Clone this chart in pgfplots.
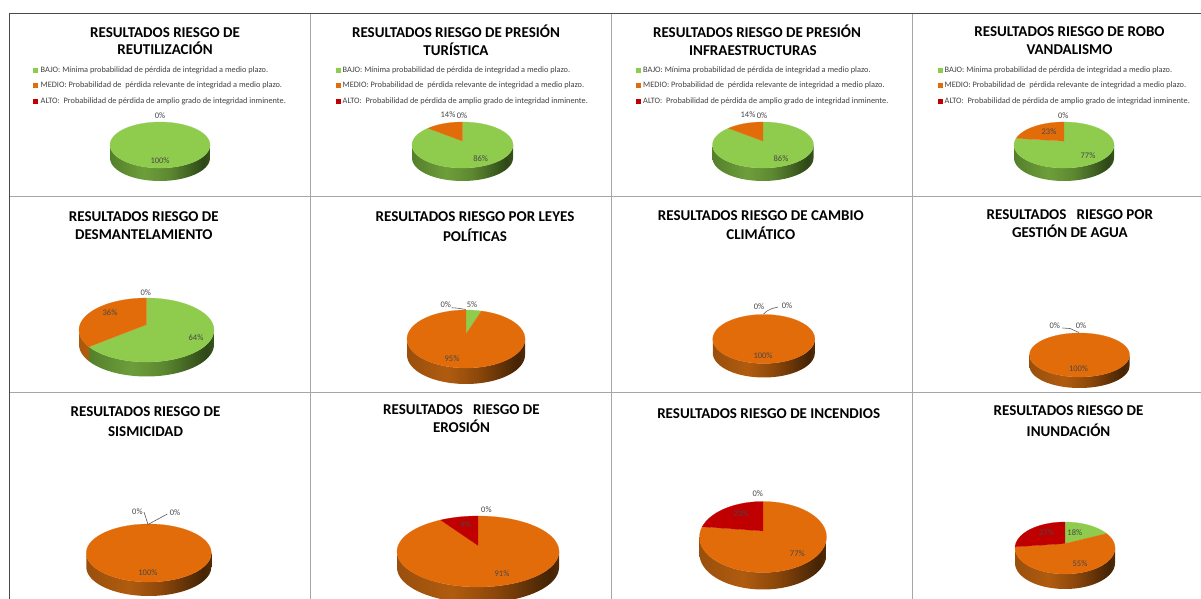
\documentclass[border=0pt]{standalone}
\usepackage{fontspec}
\setmainfont{Carlito}
\usepackage{pgfplots}
\pgfplotsset{compat=1.18}
\definecolor{cG}{HTML}{8FCC4E}
\definecolor{cO}{HTML}{E36C0A}
\definecolor{cR}{HTML}{C00000}
\definecolor{cGrid}{HTML}{A6A6A6}
\definecolor{cDark}{HTML}{4A4A4A}
\pgfdeclarehorizontalshading{gS}{100bp}{rgb(0bp)=(0.33,0.5,0.17); rgb(25bp)=(0.33,0.5,0.17); rgb(42bp)=(0.43,0.62,0.23); rgb(55bp)=(0.36,0.53,0.19); rgb(72bp)=(0.18,0.28,0.09); rgb(75bp)=(0.22,0.33,0.11); rgb(100bp)=(0.22,0.33,0.11)}
\pgfdeclarehorizontalshading{oS}{100bp}{rgb(0bp)=(0.6,0.31,0.05); rgb(25bp)=(0.6,0.31,0.05); rgb(42bp)=(0.69,0.36,0.06); rgb(55bp)=(0.55,0.28,0.04); rgb(72bp)=(0.27,0.14,0.02); rgb(75bp)=(0.32,0.17,0.03); rgb(100bp)=(0.32,0.17,0.03)}
\pgfdeclarehorizontalshading{oL}{100bp}{rgb(0bp)=(0.66,0.34,0.05); rgb(100bp)=(0.7,0.37,0.06)}
\pgfdeclarehorizontalshading{rS}{100bp}{rgb(0bp)=(0.55,0,0); rgb(100bp)=(0.3,0,0)}
\def\pieA{0.17}
\def\oShade{oS}
\newcommand\setPie[5]{%
  \def\pcx{#1}\def\pcy{#2}\def\pdp{#5}%
  \pgfmathsetmacro\pieRx{#3*sqrt(1-\pieA*\pieA)}%
  \pgfmathsetmacro\pieRy{#4*(1-\pieA*\pieA)}%
  \pgfmathsetmacro\pay{#2-\pieA*#4}%
  \pgfmathsetmacro\pieVis{acos(-\pieA)}%
  \pgfmathsetmacro\pieVisB{360-\pieVis}}
\newcommand\piePt[2]{%
  \pgfmathsetmacro\ptd{1+\pieA*cos(#1)}%
  \pgfmathsetmacro\ptx{\pcx+\pieRx*sin(#1)/\ptd}%
  \pgfmathsetmacro\pty{\pay-\pieRy*cos(#1)/\ptd+#2}%
  \xdef\plist{\plist (\ptx,\pty)}}
\newcommand\pieTop[3]{%
  \ifdim#1pt<#2pt
    \pgfmathtruncatemacro\nn{ceil((#2-#1)/4)}%
    \xdef\plist{(\pcx,\pay)}%
    \foreach \i in {0,...,\nn}{\pgfmathsetmacro\ptt{#1+(#2-#1)*(\i/\nn)}\piePt{\ptt}{0}}%
    \edef\tmp{\noexpand\addplot[forget plot,fill=#3,draw=#3,line width=.2pt] coordinates {\plist};}\tmp
  \fi}
\newcommand\pieSide[3]{%
  \pgfmathsetmacro\ss{max(#1,\pieVis)}%
  \pgfmathsetmacro\se{min(#2,\pieVisB)}%
  \ifdim\ss pt<\se pt
    \pgfmathtruncatemacro\nn{ceil((\se-\ss)/4)}%
    \xdef\plist{}%
    \foreach \i in {0,...,\nn}{\pgfmathsetmacro\ptt{\ss+(\se-\ss)*(\i/\nn)}\piePt{\ptt}{0}}%
    \foreach \i in {0,...,\nn}{\pgfmathsetmacro\ptt{\se-(\se-\ss)*(\i/\nn)}\piePt{\ptt}{\pdp}}%
    \edef\tmp{\noexpand\addplot[forget plot,draw=none,shade,shading=#3] coordinates {\plist};}\tmp
  \fi}
% #1..#5 geometry (cx, cy, rx, ry, depth); #6 bajo, #7 medio, #8 alto in percent
\newcommand\pie[8]{%
  \setPie{#1}{#2}{#3}{#4}{#5}%
  \pgfmathsetmacro\aa{3.6*#6}%
  \pgfmathsetmacro\ab{\aa+3.6*#7}%
  \pgfmathsetmacro\ac{\ab+3.6*#8}%
  \pieSide{0}{\aa}{gS}\pieSide{\aa}{\ab}{\oShade}\pieSide{\ab}{\ac}{rS}%
  \pieTop{0}{\aa}{cG}\pieTop{\aa}{\ab}{cO}\pieTop{\ab}{\ac}{cR}}
\newcommand\ttl[4][15]{\node[anchor=base,inner sep=0pt,text=black,yshift=-4.8pt] at (axis cs:#2,#3) {\fontsize{#1}{#1}\selectfont\bfseries #4};}
\newcommand\lab[3]{\node[anchor=center,inner sep=0pt,text=black!72] at (axis cs:#1,#2) {\fontsize{8.5}{9}\selectfont #3};}
\newcommand\legcell[2]{%
  \addplot[forget plot,only marks,mark=square*,mark size=2pt,color=cG] coordinates {(#1,70)};
  \addplot[forget plot,only marks,mark=square*,mark size=2pt,color=cO] coordinates {(#1,85)};
  \addplot[forget plot,only marks,mark=square*,mark size=2pt,color=cR] coordinates {(#1,101)};
  \node[anchor=west,inner sep=0pt,text=black!75] at (axis cs:#2,70) {\fontsize{8.3}{9}\selectfont BAJO: Mínima probabilidad de pérdida de integridad a medio plazo.};
  \node[anchor=west,inner sep=0pt,text=black!75] at (axis cs:#2,85) {\fontsize{8.3}{9}\selectfont MEDIO: Probabilidad de~ pérdida relevante de integridad a medio plazo.};
  \node[anchor=west,inner sep=0pt,text=black!75] at (axis cs:#2,101) {\fontsize{8.3}{9}\selectfont ALTO:~ Probabilidad de pérdida de amplio grado de integridad inminente.};
}
\begin{document}
\begin{tikzpicture}
\begin{axis}[hide axis,scale only axis,width=1201pt,height=599pt,xmin=0,xmax=1201,ymin=0,ymax=599,y dir=reverse,clip=true]
% grid
\addplot[forget plot,cGrid,line width=1.2pt] coordinates {(310.5,14) (310.5,599)};
\addplot[forget plot,cGrid,line width=1.2pt] coordinates {(611.5,14) (611.5,599)};
\addplot[forget plot,cGrid,line width=1.2pt] coordinates {(912.5,14) (912.5,599)};
\addplot[forget plot,cGrid,line width=1.2pt] coordinates {(9,196.5) (1201,196.5)};
\addplot[forget plot,cGrid,line width=1.2pt] coordinates {(9,392.5) (1201,392.5)};
\addplot[forget plot,cDark,line width=1.3pt] coordinates {(9,13.5) (1201,13.5)};
\addplot[forget plot,cDark,line width=1.3pt] coordinates {(9.5,13.5) (9.5,599)};
% legends
\legcell{35}{40.5}
\legcell{338}{342.5}
\legcell{638.5}{643}
\legcell{940}{944.5}
% pies
\pie{160}{145}{50}{23}{13}{100}{0}{0}
\pie{462.5}{145}{50.5}{23}{13}{86}{14}{0}
\pie{763}{145}{50.5}{23}{13}{86}{14}{0}
\pie{1064}{145}{50}{23}{13}{77}{23}{0}
\def\oShade{oL}
\pie{146.5}{330}{67.5}{32}{14.5}{64}{36}{0}
\def\oShade{oS}
\pie{466}{339}{59}{29}{16}{5}{95}{0}
\pie{763.8}{339}{51}{24.5}{14}{0}{100}{0}
\pie{1079.5}{355}{50}{22}{11}{0}{100}{0}
\pie{148.8}{553}{62.5}{29}{14}{0}{100}{0}
\pie{478}{551.5}{81}{35.5}{16}{0}{91}{9}
\pie{763}{537}{63.5}{35.5}{17}{0}{77}{23}
\pie{1065}{548}{50}{26}{15}{18}{55}{27}
% leader lines
\addplot[forget plot,black!65,line width=.6pt] coordinates {(451.7,307.7) (458,308.2) (465.7,309.5)};
\addplot[forget plot,black!65,line width=.6pt] coordinates {(763.5,314) (767,311) (772,308.5) (778,307)};
\addplot[forget plot,black!65,line width=.6pt] coordinates {(1062.3,328) (1070,328.5) (1079,332.5)};
\addplot[forget plot,black!65,line width=.6pt] coordinates {(144,512) (148,524.5) (167.3,514)};
% titles
\ttl{165}{32.5}{RESULTADOS RIESGO DE}
\ttl{165}{50}{REUTILIZACIÓN}
\ttl{456}{32.5}{RESULTADOS RIESGO DE PRESIÓN}
\ttl{456}{51}{TURÍSTICA}
\ttl{757}{32.5}{RESULTADOS RIESGO DE PRESIÓN}
\ttl{753}{51}{INFRAESTRUCTURAS}
\ttl{1069.5}{32}{RESULTADOS RIESGO DE ROBO}
\ttl{1069.5}{50}{VANDALISMO}
\ttl{143.8}{216.5}{RESULTADOS RIESGO DE}
\ttl{143.8}{235}{DESMANTELAMIENTO}
\ttl{475}{217}{RESULTADOS RIESGO POR LEYES}
\ttl{475}{237}{POLÍTICAS}
\ttl{760.8}{215.5}{RESULTADOS RIESGO DE CAMBIO}
\ttl{760.8}{235}{CLIMÁTICO}
\ttl{1069.8}{214.5}{RESULTADOS~~ RIESGO POR}
\ttl{1069.8}{233}{GESTIÓN DE AGUA}
\ttl{145.5}{412}{RESULTADOS RIESGO DE}
\ttl{145.5}{431.5}{SISMICIDAD}
\ttl{461.5}{410}{RESULTADOS~~ RIESGO DE}
\ttl{461.5}{428}{EROSIÓN}
\ttl{768.7}{414}{RESULTADOS RIESGO DE INCENDIOS}
\ttl{1068.5}{410.5}{RESULTADOS RIESGO DE}
\ttl{1068.5}{431.5}{INUNDACIÓN}
% value labels
\lab{160}{116}{0\%}\lab{160}{160.5}{100\%}
\lab{448}{114.5}{14\%}\lab{462}{115.5}{0\%}\lab{480.7}{159}{86\%}
\lab{748}{114.5}{14\%}\lab{762}{115.5}{0\%}\lab{781}{159}{86\%}
\lab{1063.3}{115.5}{0\%}\lab{1049}{132}{23\%}\lab{1088}{156}{77\%}
\lab{145.7}{293}{0\%}\lab{110}{313}{36\%}\lab{196}{338}{64\%}
\lab{445.7}{304.7}{0\%}\lab{472}{305}{5\%}\lab{452}{359}{95\%}
\lab{759}{306.7}{0\%}\lab{787}{305.3}{0\%}\lab{763}{356}{100\%}
\lab{1054.8}{326}{0\%}\lab{1081}{326}{0\%}\lab{1078.5}{369}{100\%}
\lab{137.4}{512}{0\%}\lab{175}{513}{0\%}\lab{147.9}{572.7}{100\%}
\lab{486.4}{510}{0\%}\lab{465.8}{524.3}{9\%}\lab{502}{574}{91\%}
\lab{757.8}{493.3}{0\%}\lab{741}{514}{23\%}\lab{797.3}{554}{77\%}
\lab{1074.8}{532.7}{18\%}\lab{1046.5}{533}{27\%}\lab{1080}{564}{55\%}
\end{axis}
\path (current axis.south west) rectangle (current axis.north east);
\end{tikzpicture}
\end{document}
